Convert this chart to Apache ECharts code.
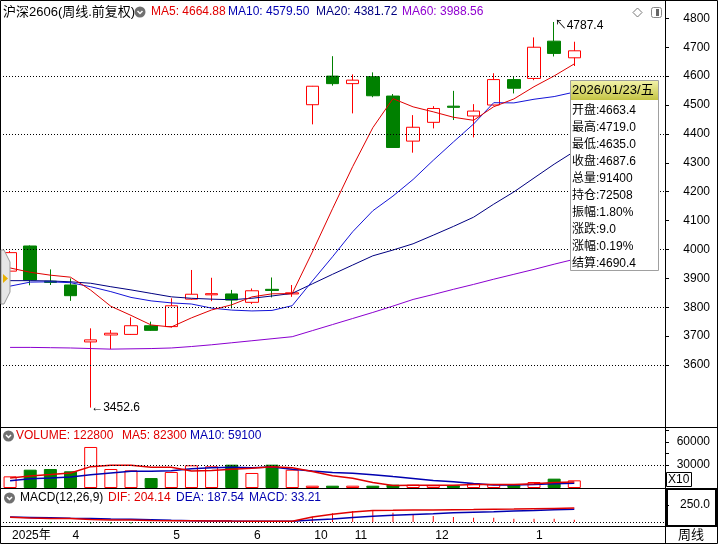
<!DOCTYPE html>
<html><head><meta charset="utf-8">
<script src="https://cdn.jsdelivr.net/npm/echarts@6/dist/echarts.min.js"></script>
<style>html,body{margin:0;padding:0;background:#fff}#c{width:718px;height:544px}</style>
</head><body><div id="c"></div>
<script>
// ---------------- DATA ----------------
const dates = ['2025-03-14','2025-03-21','2025-03-28','2025-04-03','2025-04-11','2025-04-18','2025-04-25','2025-04-30',
  '2025-05-09','2025-05-16','2025-05-23','2025-05-30','2025-06-06','2025-06-13','2025-06-20','2025-10-24','2025-10-31',
  '2025-11-07','2025-11-14','2025-11-21','2025-11-28','2025-12-05','2025-12-12','2025-12-19','2025-12-26','2026-01-02',
  '2026-01-09','2026-01-16','2026-01-23'];
const padCats = ['p1','p2','p3','p4'];
const opens  = [3925,4012,3890,3877,3680,3704,3706,3736,3733,3828,3843,3846,3817,3862,3846,4501,4600,4574,4598,4531,4375,4440,4496,4462,4500,4588,4592,4721,4663.4];
const closes = [3989,3894,3886,3840,3687,3710,3736,3720,3805,3845,3847,3825,3857,3858,3850,4565,4574,4586,4532,4353,4423,4488,4492,4479,4588,4558,4700,4678.6,4687.6];
const lows   = [3920,3876,3877,3822,3452.6,3655,3704,3718,3730,3826,3821,3796,3811,3834,3836,4433,4567,4471,4527,4353,4335,4419,4448,4388,4498,4540,4586,4668,4635.0];
const highs  = [3995,4014,3931,3900,3727,3721,3765,3750,3831,3929,3902,3860,3865,3903,3877,4566,4669,4606,4613,4538,4465,4496,4549,4503,4610,4600,4734,4787.4,4719.0];
const ma5  = [3936,3921,3911,3904,3859.2,3803.4,3771.8,3738.6,3731.6,3763.2,3790.6,3808.4,3835.8,3846.4,3847.4,3991,4140.8,4286.6,4421.4,4522,4493.6,4476.4,4457.6,4447,4494,4521,4563.4,4600.7,4642.4];
const ma10 = [3873,3887,3888,3885,3871,3854,3834,3822,3815,3811.2,3797,3790.1,3787.2,3789,3805.3,3890.8,3974.6,4061.2,4133.9,4184.7,4242.3,4308.6,4372.1,4434.2,4508,4507.3,4519.9,4529.2,4544.7];
const ma20 = [3892,3892,3891,3888,3883,3871,3860,3848,3836,3831,3828,3826,3831,3839,3848,3881,3914,3946,3978,3998,4019.7,4049.4,4079.7,4111.6,4156.7,4199.1,4247.3,4295.2,4339.3];
const ma60 = [3661,3661,3660,3659,3657,3655,3656,3657,3659,3664,3670,3677,3684,3691,3698,3719,3740,3761,3782,3804,3827,3844,3862,3879,3897,3914,3931,3949,3966];
const volumes = [15200,23900,24800,21800,53500,24800,23000,13000,20900,29600,28300,30400,19600,30400,23900,3000,3000,3000,3000,4300,4300,3500,3500,6500,5200,4300,7800,12200,10000];
const volMa5  = [13000,15500,17500,19600,27840,29760,29580,27220,27040,22260,22960,24440,25760,27660,26520,21460,15980,12660,7180,3260,3520,3620,3720,4420,4600,4600,5460,7200,7900];
const volMa10 = [9500,12100,13000,14300,17400,19600,21800,21800,22600,25050,26360,27010,26490,27350,24390,22210,20210,19210,17420,14890,12490,9800,8190,5800,3930,4060,4540,5460,6160];
const dif  = [70,60,52,50,38,30,28,22,20,20,16,13,11,10,11,75,113,147,170,172,175,177,180,182,186,190,195,200,204.14];
const dea  = [73,68,62,55,50,44,40,32,24,20,16,13,11,10,10,30,45,65,85,100,112,122,135,145,152,162,170,180,187.54];
const macd = [-6,-16,-20,-10,-24,-28,-24,-20,-8,0,0,0,0,0,2,78,127,162,176,137,103,88,74,64,64,49,49,49,33.21];
const priceTicks = [3600,3700,3800,3900,4000,4100,4200,4300,4400,4500,4600,4700,4800];
const priceGridLevels = [4600,4400,4200,4000,3800,3600];
const volTicks = [15000,30000,45000,60000,75000];
const volLabels = [30000,60000];
const macdLabels = [250];
const monthTickIndex = [0,3,8,12,15,17,21,26];
const monthTickText = ['2025年','4','5','6','10','11','12','1'];
const lowMark = {index:4, value:3452.6};
const highMark = {index:27, value:4787.4};
const tooltipTitle = '2026/01/23/五';
const tooltipRows = ['开盘:4663.4','最高:4719.0','最低:4635.0','收盘:4687.6','总量:91400','持仓:72508','振幅:1.80%','涨跌:9.0','涨幅:0.19%','结算:4690.4'];
const mainHeader = [
  {t:'沪深2606(周线.前复权)', x:3, c:'#000'},
  {t:'MA5: 4664.88', x:151, c:'#E00000'},
  {t:'MA10: 4579.50', x:228, c:'#0000B0'},
  {t:'MA20: 4381.72', x:316, c:'#000080'},
  {t:'MA60: 3988.56', x:402, c:'#9000D0'}
];
const volHeader = [
  {t:'VOLUME: 122800', x:16, c:'#E00000'},
  {t:'MA5: 82300', x:122, c:'#E00000'},
  {t:'MA10: 59100', x:190, c:'#0000B0'}
];
const macdHeader = [
  {t:'MACD(12,26,9)', x:20, c:'#000'},
  {t:'DIF: 204.14', x:108, c:'#E00000'},
  {t:'DEA: 187.54', x:176, c:'#0000B0'},
  {t:'MACD: 33.21', x:249, c:'#0000B0'}
];

// ---------------- CHART ----------------
const RED = '#FF0000', GREEN = '#008000';
const FONT = '"Liberation Sans", "Noto Sans CJK SC", "DejaVu Sans", sans-serif';
const cats = dates.concat(padCats);
const candleData = dates.map((d,i)=>[opens[i], closes[i], lows[i], highs[i]]);
const volData = volumes.map((v,i)=>({value:v, itemStyle: closes[i]>=opens[i]
  ? {color:'#fff', borderColor:RED, borderWidth:1}
  : {color:GREEN, borderColor:GREEN, borderWidth:1}}));
const macdData = macd.map(v=>({value:v, itemStyle:{color: v>=0 ? RED : GREEN}}));

const baseX = {type:'category', data:cats, boundaryGap:true, axisLine:{show:false}, axisTick:{show:false}, axisLabel:{show:false}, splitLine:{show:false}};
const yBase = {type:'value', position:'right', axisLine:{show:true, lineStyle:{color:'#000', width:1}}, splitLine:{show:false}};
const lbl = {color:'#000', fontSize:12, fontFamily:FONT, align:'right', margin:45};

function txt(t, x, y, color, size, align) {
  return {type:'text', z:120, style:{text:t, x:x, y:y, fill:color, font: (size||12)+'px '+FONT, textAlign: align||'left', textVerticalAlign:'middle'}};
}
function hline(x1,x2,y,color,w){return {type:'line', z:110, shape:{x1:x1,y1:y,x2:x2,y2:y}, style:{stroke:color||'#000', lineWidth:w||1}};}
function vline(x,y1,y2,color,w){return {type:'line', z:110, shape:{x1:x,y1:y1,x2:x,y2:y2}, style:{stroke:color||'#000', lineWidth:w||1}};}
function icon(cx, cy){
  return [
    {type:'circle', z:120, shape:{cx:cx, cy:cy, r:5.5}, style:{fill:'#707070'}},
    {type:'polyline', z:121, shape:{points:[[cx-2.5,cy-1],[cx,cy+1.5],[cx+2.5,cy-1]]}, style:{stroke:'#fff', lineWidth:1.5, fill:null}}
  ];
}

const graphics = [];
mainHeader.forEach(h=>graphics.push(txt(h.t, h.x, 12, h.c, h.x===3?13:12)));
graphics.push(...icon(140, 12));
volHeader.forEach(h=>graphics.push(txt(h.t, h.x, 436, h.c, 12)));
graphics.push(...icon(8.5, 436));
macdHeader.forEach(h=>graphics.push(txt(h.t, h.x, 498, h.c, 12)));
graphics.push(...icon(9.5, 498));
// frame / separators
graphics.push(hline(0,718,427.5));
graphics.push(hline(0,718,488.5));
graphics.push(hline(0,718,526.5));
graphics.push(vline(665.5,0,544));
graphics.push({type:'rect', z:110, shape:{x:0.5,y:0.5,width:717,height:543}, style:{stroke:'#000', fill:null, lineWidth:1}});
// right boxes
graphics.push({type:'rect', z:111, shape:{x:667,y:489,width:49,height:37}, style:{stroke:'#000', fill:null, lineWidth:2}});
graphics.push({type:'rect', z:111, shape:{x:666.5,y:472.5,width:25,height:14}, style:{stroke:'#000', fill:'#fff', lineWidth:1}});
graphics.push(txt('X10', 668, 480, '#000', 12));
graphics.push(txt('周线', 691, 535, '#000', 13, 'center'));
// top-right icons
graphics.push({type:'polygon', z:120, shape:{points:[[633,12.5],[637.5,8],[642,12.5],[637.5,17]]}, style:{stroke:'#777', fill:'#fff', lineWidth:1}});
graphics.push({type:'rect', z:120, shape:{x:651.5,y:7.5,width:10,height:10,r:2}, style:{stroke:'#888', fill:'#fff', lineWidth:1}});
graphics.push({type:'rect', z:121, shape:{x:656,y:9,width:3,height:7}, style:{fill:'#666'}});
// left scroll handle
graphics.push({type:'polygon', z:115, shape:{points:[[1,250],[4,250],[10,262],[10,292],[4,304],[1,304]]}, style:{stroke:'#999', fill:'#E6E6E6', lineWidth:1}});
graphics.push({type:'polygon', z:116, shape:{points:[[3,274],[8,278.5],[3,283]]}, style:{fill:'#E8B000'}});
// tooltip box
graphics.push({type:'rect', z:130, shape:{x:570.5,y:80.5,width:88,height:190}, style:{stroke:'#A0A0A0', fill:'#fff', lineWidth:1}});
graphics.push({type:'rect', z:131, shape:{x:571,y:81,width:87,height:19}, style:{fill:new echarts.graphic.LinearGradient(0,0,0,1,[{offset:0,color:'#F2F2A8'},{offset:1,color:'#C4C444'}])}});
(function(){const t = txt(tooltipTitle, 572, 90.5, '#000', 13); t.z = 132; graphics.push(t);})();
tooltipRows.forEach((r,i)=>{const t = txt(r, 572, 111+i*17, '#000', 12); t.z = 132; graphics.push(t);});

const option = {
  animation:false,
  backgroundColor:'#fff',
  grid:[
    {left:0, top:1, width:665, height:421.8},
    {left:0, top:428.2, width:665, height:59.8},
    {left:0, top:488, width:665, height:38},
    {left:0, top:526, width:665, height:18}
  ],
  xAxis:[
    Object.assign({}, baseX, {gridIndex:0}),
    Object.assign({}, baseX, {gridIndex:1}),
    Object.assign({}, baseX, {gridIndex:2}),
    {type:'category', data:cats, gridIndex:3, position:'top', boundaryGap:true,
     axisLine:{show:true, lineStyle:{color:'#000'}},
     axisTick:{show:true, inside:true, length:18, alignWithLabel:true, interval:(i)=>monthTickIndex.includes(i), lineStyle:{color:'#000'}},
     axisLabel:{show:true, inside:true, margin:4, interval:(i)=>monthTickIndex.includes(i),
       formatter:(v,i)=>{const k=monthTickIndex.indexOf(i); return k>=0?monthTickText[k]:'';},
       align:'left', padding:[0,0,0,2], color:'#000', fontSize:12, fontFamily:FONT},
     splitLine:{show:false}}
  ],
  yAxis:[
    Object.assign({}, yBase, {gridIndex:0, min:3400, max:4860, interval:100,
      axisTick:{show:true, length:4, customValues:priceTicks, lineStyle:{color:'#000'}},
      axisLabel:Object.assign({}, lbl, {customValues:priceTicks, formatter:v=>priceTicks.includes(v)?String(v):''})}),
    Object.assign({}, yBase, {gridIndex:1, min:0, max:78000, interval:15000,
      axisTick:{show:true, length:4, customValues:volTicks, lineStyle:{color:'#000'}},
      axisLabel:Object.assign({}, lbl, {customValues:volLabels, formatter:v=>volLabels.includes(v)?String(v):''})}),
    Object.assign({}, yBase, {gridIndex:2, min:-58.8, max:500,
      axisTick:{show:true, length:4, customValues:macdLabels, lineStyle:{color:'#000'}},
      axisLabel:Object.assign({}, lbl, {customValues:macdLabels, formatter:v=>macdLabels.includes(v)?v.toFixed(1):''})}),
    {type:'value', gridIndex:3, show:false, min:0, max:1}
  ],
  series:[
    {type:'candlestick', xAxisIndex:0, yAxisIndex:0, data:candleData, barWidth:13, silent:true,
     itemStyle:{color:'#fff', color0:GREEN, borderColor:RED, borderColor0:GREEN, borderWidth:1},
     markLine:{silent:true, symbol:['none','none'], label:{show:false}, lineStyle:{color:'#000', type:[1,2], width:1},
       data: priceGridLevels.map(v=>({yAxis:v}))},
     markPoint:{silent:true, symbol:'circle', symbolSize:1, itemStyle:{color:'rgba(0,0,0,0)'},
       data:[
         {coord:[dates[lowMark.index], lowMark.value], label:{show:true, position:'right', distance:0, formatter:'←'+lowMark.value.toFixed(1), color:'#000', fontSize:12, fontFamily:FONT}},
         {coord:[dates[highMark.index], highMark.value], label:{show:true, position:'right', distance:0, offset:[0,4], formatter:'↖'+highMark.value.toFixed(1), color:'#000', fontSize:12, fontFamily:FONT}}
       ]}},
    {type:'line', xAxisIndex:0, yAxisIndex:0, data:ma60, symbol:'none', silent:true, lineStyle:{color:'#8B00D0', width:1}},
    {type:'line', xAxisIndex:0, yAxisIndex:0, data:ma20, symbol:'none', silent:true, lineStyle:{color:'#000080', width:1}},
    {type:'line', xAxisIndex:0, yAxisIndex:0, data:ma10, symbol:'none', silent:true, lineStyle:{color:'#1414D8', width:1}},
    {type:'line', xAxisIndex:0, yAxisIndex:0, data:ma5, symbol:'none', silent:true, lineStyle:{color:'#E00000', width:1}},
    {type:'bar', xAxisIndex:1, yAxisIndex:1, data:volData, barWidth:13, silent:true,
     markLine:{silent:true, symbol:['none','none'], label:{show:false}, lineStyle:{color:'#000', type:[1,2], width:1}, data:[{yAxis:30000}]}},
    {type:'line', xAxisIndex:1, yAxisIndex:1, data:volMa10, symbol:'none', silent:true, lineStyle:{color:'#0000B0', width:1.5}},
    {type:'line', xAxisIndex:1, yAxisIndex:1, data:volMa5, symbol:'none', silent:true, lineStyle:{color:'#E00000', width:1.5}},
    {type:'bar', xAxisIndex:2, yAxisIndex:2, data:macdData, barWidth:1, silent:true,
     markLine:{silent:true, symbol:['none','none'], label:{show:false}, lineStyle:{color:'#000', type:[1,2], width:1}, data:[{yAxis:0}]}},
    {type:'line', xAxisIndex:2, yAxisIndex:2, data:dea, symbol:'none', silent:true, lineStyle:{color:'#0000B0', width:1.5}},
    {type:'line', xAxisIndex:2, yAxisIndex:2, data:dif, symbol:'none', silent:true, lineStyle:{color:'#E00000', width:1.5}}
  ],
  graphic: graphics
};
const chart = echarts.init(document.getElementById('c'), null, {renderer:'canvas'});
chart.setOption(option);
</script>
</body></html>
